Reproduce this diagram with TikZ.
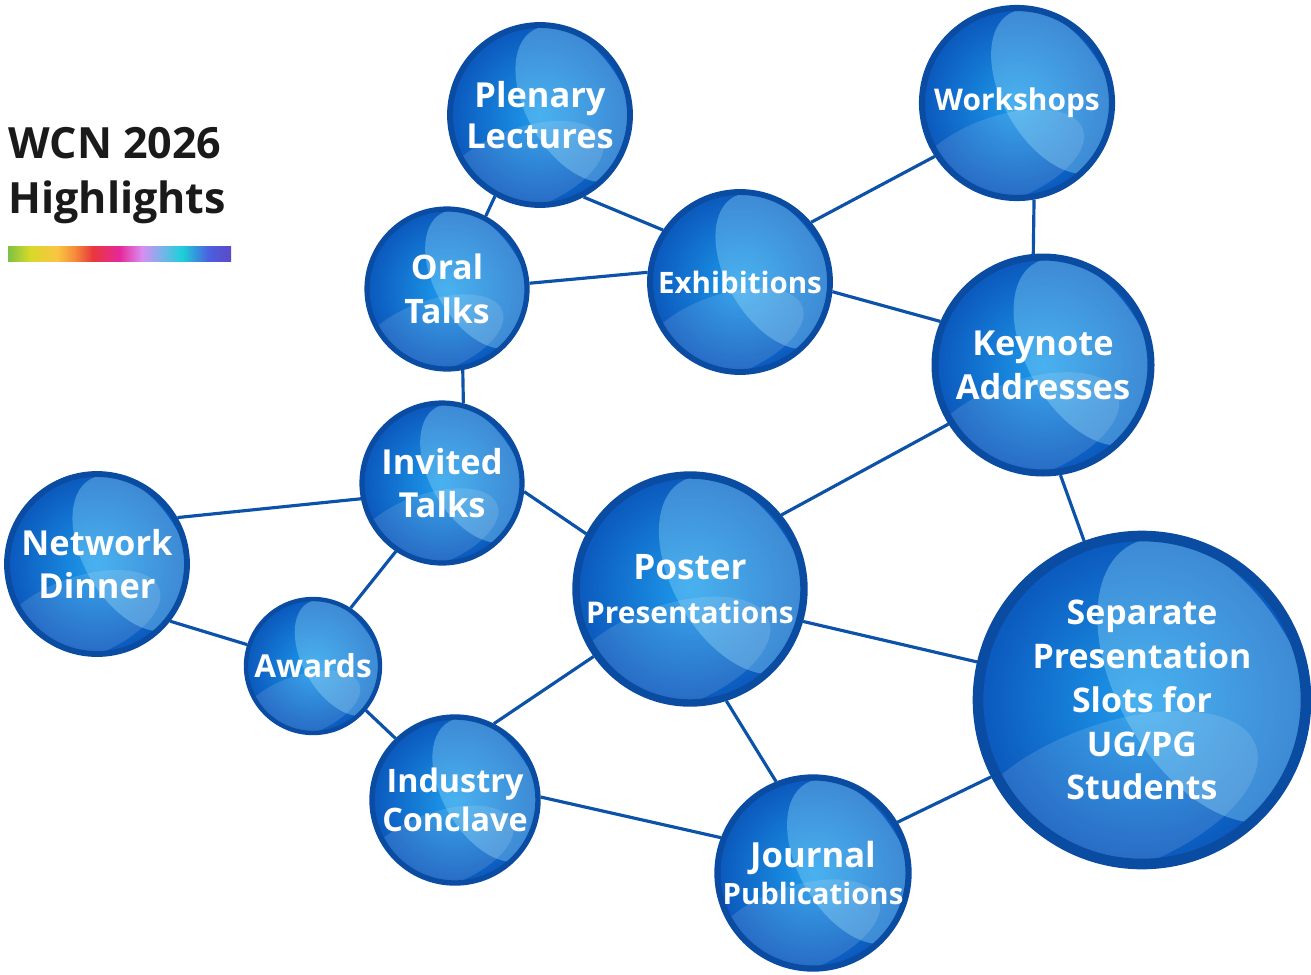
\documentclass[tikz,border=0pt]{standalone}
\usepackage{fontspec}
\setmainfont{Open Sans}
\usetikzlibrary{backgrounds}

\definecolor{ringblue}{HTML}{0A4CA2}
\definecolor{ballin}{HTML}{1E9BEB}
\definecolor{ballout}{HTML}{0B58BD}
\definecolor{glossblue}{HTML}{8AD4F7}
\definecolor{linkblue}{HTML}{0B52A8}
\definecolor{titlegray}{HTML}{1A1A1A}
\definecolor{rb1}{HTML}{7CC242}
\definecolor{rb2}{HTML}{D9D82A}
\definecolor{rb3}{HTML}{F9C642}
\definecolor{rb4}{HTML}{F58A3A}
\definecolor{rb5}{HTML}{E8383C}
\definecolor{rb6}{HTML}{E6289A}
\definecolor{rb7}{HTML}{D88EF0}
\definecolor{rb8}{HTML}{6CB8E8}
\definecolor{rb9}{HTML}{1DD0D8}
\definecolor{rb10}{HTML}{4B5FE0}
\definecolor{rb11}{HTML}{5B4BC8}
\pgfdeclarehorizontalshading{rainbowbar}{100bp}{color(0bp)=(rb1); color(25bp)=(rb1); color(30bp)=(rb2); color(36bp)=(rb3); color(40bp)=(rb4); color(44bp)=(rb5); color(50bp)=(rb6); color(55bp)=(rb7); color(60bp)=(rb8); color(64bp)=(rb9); color(70bp)=(rb10); color(75bp)=(rb11); color(100bp)=(rb11)}

\tikzset{
  ball/.style={circle, inner sep=0pt, minimum size={2*#1*0.02cm}, draw=ringblue,
    line width={#1*0.0013cm}, inner color=ballin, outer color=ballout,
    text=white, align=center, font=\bfseries,
    path picture={
      \fill[glossblue, opacity=.4]
        ([xshift=0.4*#1*0.02cm, yshift=0.12*#1*0.02cm]path picture bounding box.center)
        ellipse [x radius=0.55*#1*0.02cm, y radius=0.95*#1*0.02cm, rotate=30];
      \fill[white, opacity=.12]
        ([xshift=-0.2*#1*0.02cm, yshift=-0.6*#1*0.02cm]path picture bounding box.center)
        ellipse [x radius=0.95*#1*0.02cm, y radius=0.45*#1*0.02cm, rotate=20];
    }},
  link/.style={draw=linkblue, line width=1.8pt},
  fs/.style 2 args={font=\bfseries\fontsize{#1}{#2}\selectfont}
}

\begin{document}
\begin{tikzpicture}[x=0.02cm, y=-0.02cm]
\useasboundingbox (0,0) rectangle (1311,974);

% title
\node [anchor=north west, align=left, text=titlegray, font=\bfseries\fontsize{24.5}{31}\selectfont, inner sep=0pt] (title) at (8,127) {WCN 2026\\Highlights};
\fill [shading=rainbowbar] (8,246) rectangle (231,261);

% spheres
\node [ball=90, fs={19.6}{23}] (plenary) at (540,115) {Plenary\\Lectures};
\node [ball=95, fs={17}{20}] (workshops) at (1017,103) {Workshops};
\node [ball=80, fs={19.2}{25}] (oral) at (447,289) {Oral\\Talks};
\node [ball=90, fs={16.8}{20}] (exhib) at (740,282) {Exhibitions};
\node [ball=108, fs={19.6}{25}] (keynote) at (1043,365) {Keynote\\Addresses};
\node [ball=80, fs={19.6}{24}] (invited) at (442,483) {Invited\\Talks};
\node [ball=90, fs={19.6}{24}] (dinner) at (97,564) {Network\\Dinner};
\node [ball=114, fs={17}{25}] (poster) at (690,589) {{\fontsize{20}{25}\selectfont Poster}\\Presentations};
\node [ball=164, fs={19.3}{25}] (separate) at (1142,700) {Separate\\Presentation\\Slots for\\UG/PG\\Students};
\node [ball=67, fs={18}{21}] (awards) at (313,666) {Awards};
\node [ball=83, fs={18.4}{22}] (industry) at (455,800) {Industry\\Conclave};
\node [ball=95, fs={16.7}{21}] (journal) at (813,873) {{\fontsize{19.7}{21}\selectfont Journal}\\Publications};

% links behind the spheres
\begin{scope}[on background layer]
\draw [link] (plenary.241) -- (oral.62);
\draw [link] (plenary.298) -- (exhib.146);
\draw [link] (oral.4) -- (exhib.174);
\draw [link] (exhib.40) -- (workshops.213);
\draw [link] (exhib.354) -- (keynote.157);
\draw [link] (workshops.280) -- (keynote.95);
\draw [link] (oral.281) -- (invited.75);
\draw [link] (invited.191) -- (dinner.30);
\draw [link] (invited.354) -- (poster.152);
\draw [link] (invited.236) -- (awards.57);
\draw [link] (dinner.322) -- (awards.162);
\draw [link] (awards.320) -- (industry.134);
\draw [link] (industry.63) -- (poster.215);
\draw [link] (industry.2) -- (journal.159);
\draw [link] (poster.39) -- (keynote.212);
\draw [link] (poster.344) -- (separate.167);
\draw [link] (poster.288) -- (journal.112);
\draw [link] (keynote.279) -- (separate.110);
\draw [link] (journal.31) -- (separate.207);
\end{scope}
\end{tikzpicture}
\end{document}
